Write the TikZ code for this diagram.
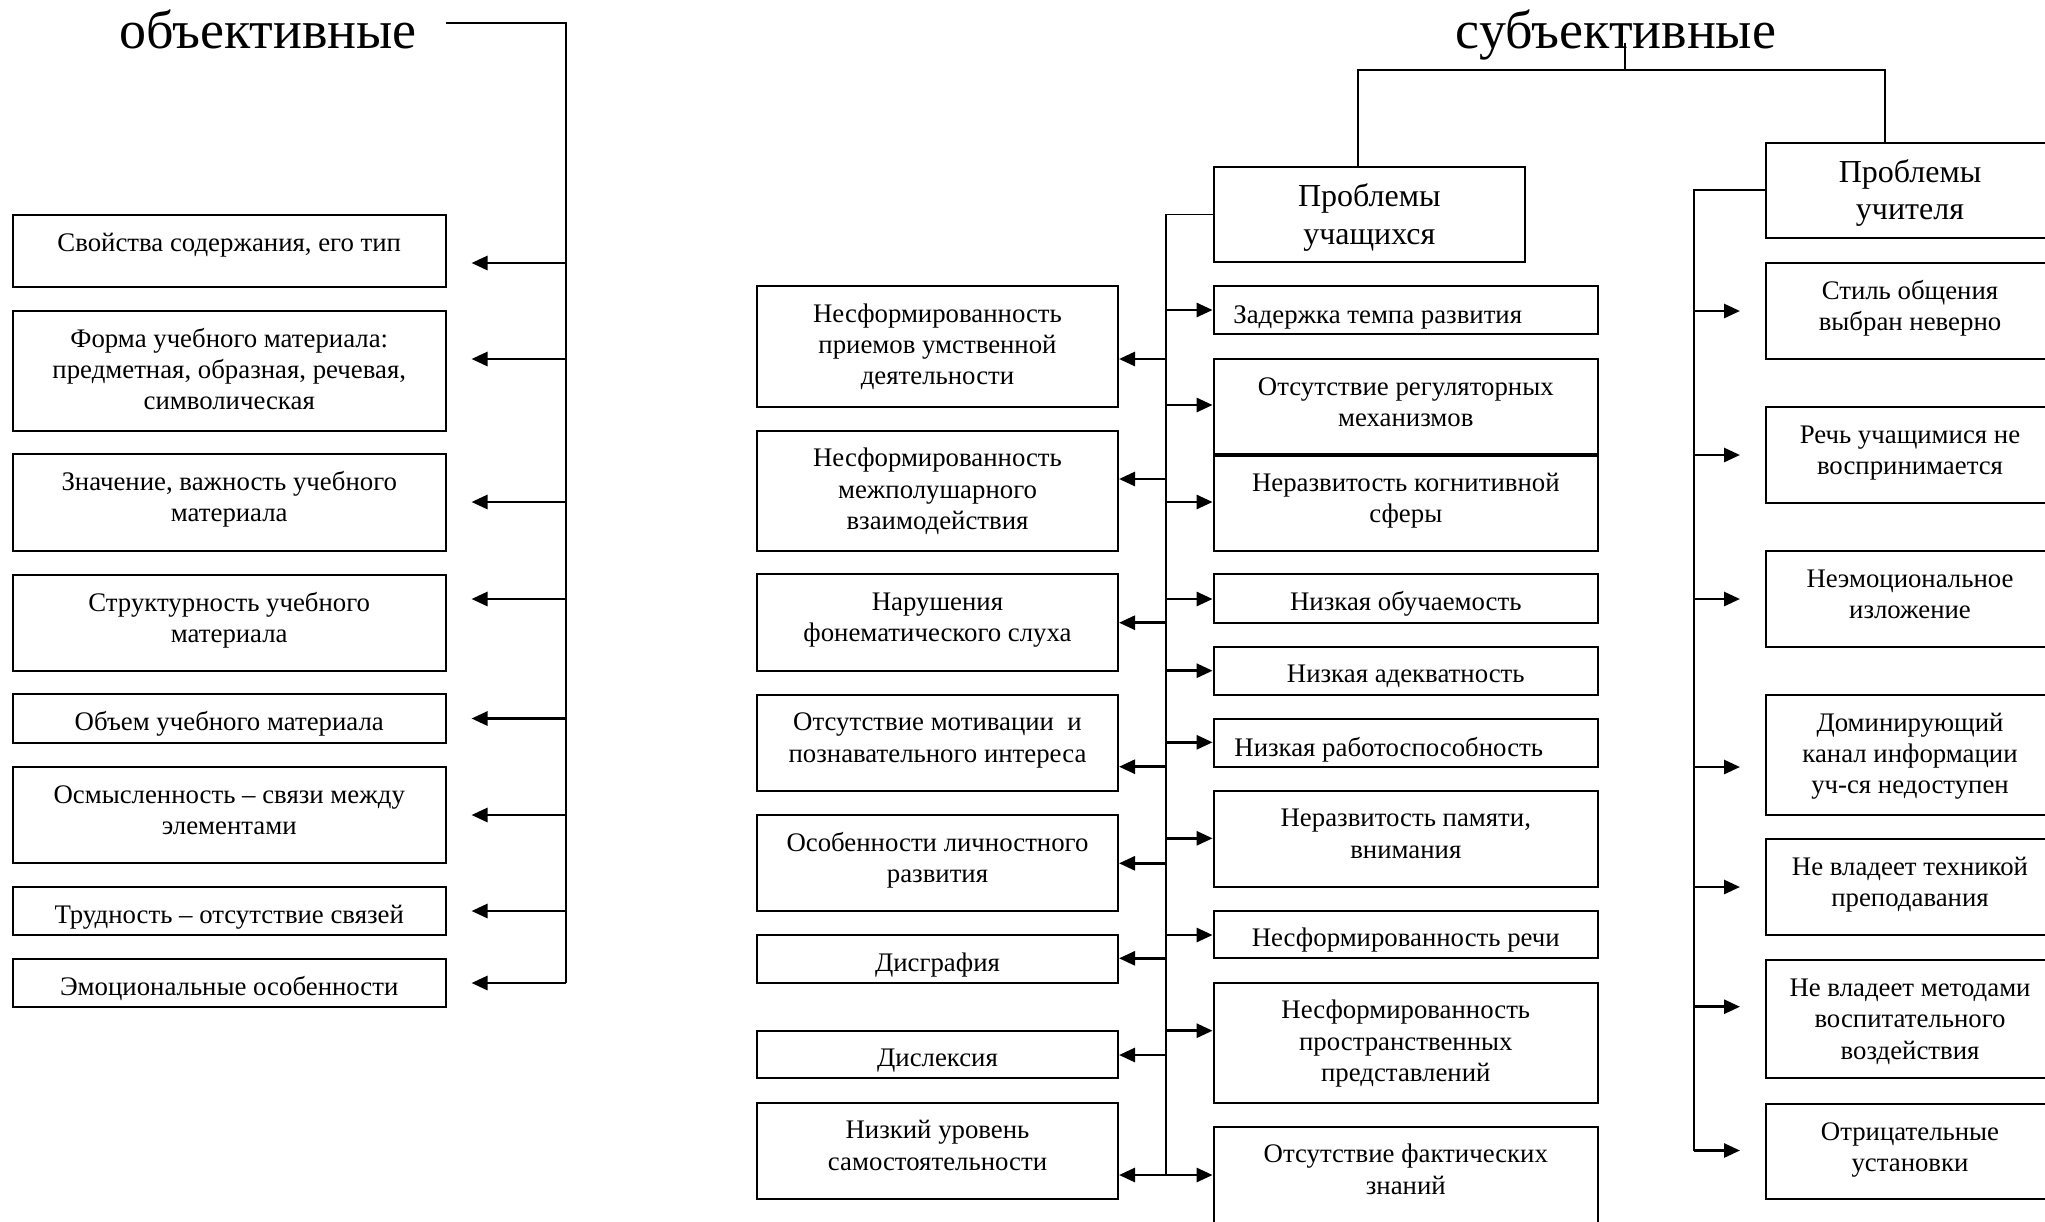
\documentclass[tikz,border=0pt]{standalone}
\usepackage{fontspec}
\setmainfont{Liberation Serif}
\usetikzlibrary{arrows.meta,fit,calc}
\newcommand\mkbox[5]{\node[boxst, fit={(#2,#3)(#4,#5)}] (#1) {};}
\begin{document}
\begin{tikzpicture}[x=0.5pt,y=-0.5pt,
  boxst/.style={draw, line width=1pt, inner sep=0pt},
  txt/.style={font=\fontsize{13.4}{15.6}\selectfont, align=center, inner sep=0pt, anchor=north},
  txtl/.style={font=\fontsize{13.4}{15.6}\selectfont, align=left, inner sep=0pt, anchor=north west},
  head/.style={font=\fontsize{16}{18.8}\selectfont, align=center, inner sep=0pt, anchor=north},
  ttl/.style={font=\fontsize{27}{30}\selectfont, inner sep=0pt, anchor=base},
  conn/.style={line width=0.9pt},
  arr/.style={line width=1.4pt, -{Triangle[length=8pt,width=7pt]}},
  arrg/.style={arr, shorten >=12.5pt},
]
\useasboundingbox (0,0) rectangle (2045,1221);

% titles
\node[ttl] (obj) at (268,48) {объективные};
\node[ttl] (subj) at (1616,48) {субъективные};

% ---------- left column ----------
\mkbox{L1}{13}{215}{445.5}{287}
\mkbox{L2}{13}{311}{445.5}{431}
\mkbox{L3}{13}{454}{445.5}{550.5}
\mkbox{L4}{13}{575}{445.5}{671}
\mkbox{L5}{13}{694}{445.5}{743}
\mkbox{L6}{13}{767}{445.5}{863}
\mkbox{L7}{13}{887}{445.5}{935}
\mkbox{L8}{13}{959}{445.5}{1007}
\node[txt] (L1t) at ($(L1.north)+(0,15)$) {\strut Свойства содержания, его тип};
\node[txt] (L2t) at ($(L2.north)+(0,15)$) {\strut Форма учебного материала:\\предметная, образная, речевая,\\символическая};
\node[txt] (L3t) at ($(L3.north)+(0,15)$) {\strut Значение, важность учебного\\материала};
\node[txt] (L4t) at ($(L4.north)+(0,15)$) {\strut Структурность учебного\\материала};
\node[txt] (L5t) at ($(L5.north)+(0,15)$) {\strut Объем учебного материала};
\node[txt] (L6t) at ($(L6.north)+(0,15)$) {\strut Осмысленность – связи между\\элементами};
\node[txt] (L7t) at ($(L7.north)+(0,15)$) {\strut Трудность – отсутствие связей};
\node[txt] (L8t) at ($(L8.north)+(0,15)$) {\strut Эмоциональные особенности};

\coordinate (lt) at (446,23);
\coordinate (lb) at (566,983);
\draw[conn] (lt) -| (lb);
\foreach \n/\y in {L1/263,L2/359,L3/502,L4/599,L5/718.5,L6/815,L7/911,L8/983}{
  \coordinate (a\n) at (566,\y);
  \draw[arrg] (a\n) -- (a\n -| \n.east);
}

% ---------- students ----------
\mkbox{PU}{1213.6}{167}{1525}{262}
\node[head] (PUt) at ($(PU.north)+(0,14)$) {\strut Проблемы\\учащихся};

\mkbox{Ma}{757}{286}{1118}{406.7}
\mkbox{Mb}{757}{430.7}{1118}{550.7}
\mkbox{Mc}{757}{574}{1118}{670.7}
\mkbox{Md}{757}{694.7}{1118}{790.7}
\mkbox{Me}{757}{815}{1118}{910.7}
\mkbox{Mf}{757}{935}{1118}{982.7}
\mkbox{Mg}{757}{1030.7}{1118}{1078.3}
\mkbox{Mh}{757}{1102.7}{1118}{1199}
\node[txt] (Mat) at ($(Ma.north)+(0,15)$) {\strut Несформированность\\приемов умственной\\деятельности};
\node[txt] (Mbt) at ($(Mb.north)+(0,15)$) {\strut Несформированность\\межполушарного\\взаимодействия};
\node[txt] (Mct) at ($(Mc.north)+(0,15)$) {\strut Нарушения\\фонематического слуха};
\node[txt] (Mdt) at ($(Md.north)+(0,15)$) {\strut Отсутствие мотивации\ \ и\\познавательного интереса};
\node[txt] (Met) at ($(Me.north)+(0,15)$) {\strut Особенности личностного\\развития};
\node[txt] (Mft) at ($(Mf.north)+(0,15)$) {\strut Дисграфия};
\node[txt] (Mgt) at ($(Mg.north)+(0,15)$) {\strut Дислексия};
\node[txt] (Mht) at ($(Mh.north)+(0,15)$) {\strut Низкий уровень\\самостоятельности};

\mkbox{RA}{1213.6}{286}{1598}{334}
\mkbox{RB}{1213.6}{359}{1598}{453.5}
\mkbox{RC}{1213.6}{455.5}{1598}{550.7}
\mkbox{RD}{1213.6}{574}{1598}{622.7}
\mkbox{RE}{1213.6}{646.7}{1598}{694.7}
\mkbox{RF}{1213.6}{719}{1598}{766.7}
\mkbox{RG}{1213.6}{790.7}{1598}{886.7}
\mkbox{RH}{1213.6}{910.7}{1598}{958.3}
\mkbox{RI}{1213.6}{982.7}{1598}{1102.7}
\mkbox{RJ}{1213.6}{1126.7}{1598}{1250}
\node[txtl] (RAt) at (1233,301) {\strut Задержка темпа развития};
\node[txtl] (RFt) at (1234,734) {\strut Низкая работоспособность};
\node[txt] (RBt) at ($(RB.north)+(0,15)$) {\strut Отсутствие регуляторных\\механизмов};
\node[txt] (RCt) at ($(RC.north)+(0,15)$) {\strut Неразвитость когнитивной\\сферы};
\node[txt] (RDt) at ($(RD.north)+(0,15)$) {\strut Низкая обучаемость};
\node[txt] (REt) at ($(RE.north)+(0,15)$) {\strut Низкая адекватность};
\node[txt] (RGt) at ($(RG.north)+(0,15)$) {\strut Неразвитость памяти,\\внимания};
\node[txt] (RHt) at ($(RH.north)+(0,15)$) {\strut Несформированность речи};
\node[txt] (RIt) at ($(RI.north)+(0,15)$) {\strut Несформированность\\пространственных\\представлений};
\node[txt] (RJt) at ($(RJ.north)+(0,15)$) {\strut Отсутствие фактических\\знаний};

\coordinate (mb) at (1166,1175);
\draw[conn] (PU.west) -| (mb);
\foreach \n/\y in {Ma/359,Mb/479,Mc/622.7,Md/766.7,Me/863.3,Mf/958.3,Mg/1055,Mh/1175}{
  \coordinate (m\n) at (1166,\y);
  \draw[arr] (m\n) -- (m\n -| \n.east);
}
\foreach \n/\y in {RA/310,RB/405,RC/502,RD/599,RE/670.7,RF/742.3,RG/838.3,RH/935,RI/1030.7,RJ/1175}{
  \coordinate (m\n) at (1166,\y);
  \draw[arr] (m\n) -- (m\n -| \n.west);
}

% ---------- teacher ----------
\mkbox{PT}{1766}{142.5}{2054}{238}
\node[head] (PTt) at ($(PT.north)+(0,14)$) {\strut Проблемы\\учителя};
\mkbox{T1}{1766}{263}{2054}{358.5}
\mkbox{T2}{1766}{407}{2054}{503}
\mkbox{T3}{1766}{551}{2054}{646.7}
\mkbox{T4}{1766}{695}{2054}{814.7}
\mkbox{T5}{1766}{838.8}{2054}{934.7}
\mkbox{T6}{1766}{960.4}{2054}{1078.4}
\mkbox{T7}{1766}{1103.8}{2054}{1198.8}
\node[txt] (T1t) at ($(T1.north)+(0,15)$) {\strut Стиль общения\\выбран неверно};
\node[txt] (T2t) at ($(T2.north)+(0,15)$) {\strut Речь учащимися не\\воспринимается};
\node[txt] (T3t) at ($(T3.north)+(0,15)$) {\strut Неэмоциональное\\изложение};
\node[txt] (T4t) at ($(T4.north)+(0,15)$) {\strut Доминирующий\\канал информации\\уч-ся недоступен};
\node[txt] (T5t) at ($(T5.north)+(0,15)$) {\strut Не владеет техникой\\преподавания};
\node[txt] (T6t) at ($(T6.north)+(0,15)$) {\strut Не владеет методами\\воспитательного\\воздействия};
\node[txt] (T7t) at ($(T7.north)+(0,15)$) {\strut Отрицательные\\установки};

\coordinate (tb) at (1694,1150.5);
\draw[conn] (PT.west) -| (tb);
\foreach \n/\y in {T1/311,T2/455,T3/599,T4/767,T5/887,T6/1006.7,T7/1150.5}{
  \coordinate (t\n) at (1694,\y);
  \draw[arrg] (t\n) -- (t\n -| \n.west);
}

% ---------- top connector ----------
\coordinate (st) at (1625,43);
\coordinate (sj) at (1625,70);
\coordinate (sL) at (1358,70);
\coordinate (sR) at (1885,70);
\draw[conn] (st) -- (sj);
\draw[conn] (sL |- PU.north) -- (sL) -- (sR) -- (sR |- PT.north);
\end{tikzpicture}
\end{document}
